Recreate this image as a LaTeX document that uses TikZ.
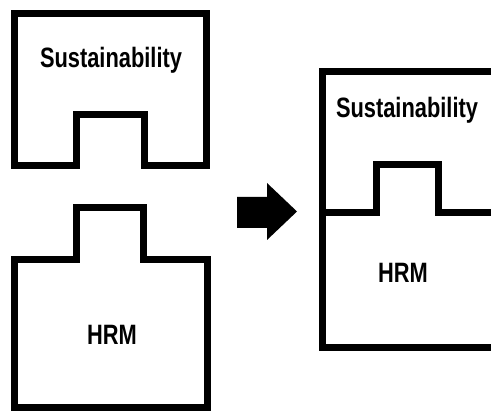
\documentclass[tikz,border=0pt]{standalone}
\usepackage{fontspec}
\setmainfont{Liberation Sans}
\newfontfamily\narrowsans[FakeStretch=0.78]{Liberation Sans}
\begin{document}
\begin{tikzpicture}[x=1pt,y=-1pt,piece/.style={line width=7pt,line join=miter},txt/.style={anchor=base,inner sep=0pt,font=\narrowsans\bfseries\fontsize{28}{28}\selectfont}]
  \useasboundingbox (0,0) rectangle (491,411);
  \clip (0,0) rectangle (491,411);
  % top piece with notch
  \draw[piece] (14,14) -- (206,14) -- (206,166) -- (144,166) -- (144,115) -- (76,115) -- (76,166) -- (14,166) -- cycle;
  \node[txt] (sus1) at (111,68) {Sustainability};
  % bottom piece with bump
  \draw[piece] (14,260) -- (76,260) -- (76,208) -- (143,208) -- (143,260) -- (207,260) -- (207,408) -- (14,408) -- cycle;
  \node[txt] (hrm1) at (112,345) {HRM};
  % arrow
  \fill (237,197) -- (267,197) -- (267,183) -- (297,211.5) -- (267,240) -- (267,228) -- (237,228) -- cycle;
  % joined pieces
  \draw[piece] (322,72) rectangle (494,348);
  \draw[piece] (322,213) -- (376,213) -- (376,165) -- (438,165) -- (438,213) -- (494,213);
  \node[txt] (sus2) at (407,118) {Sustainability};
  \node[txt] (hrm2) at (403,283) {HRM};
\end{tikzpicture}
\end{document}
